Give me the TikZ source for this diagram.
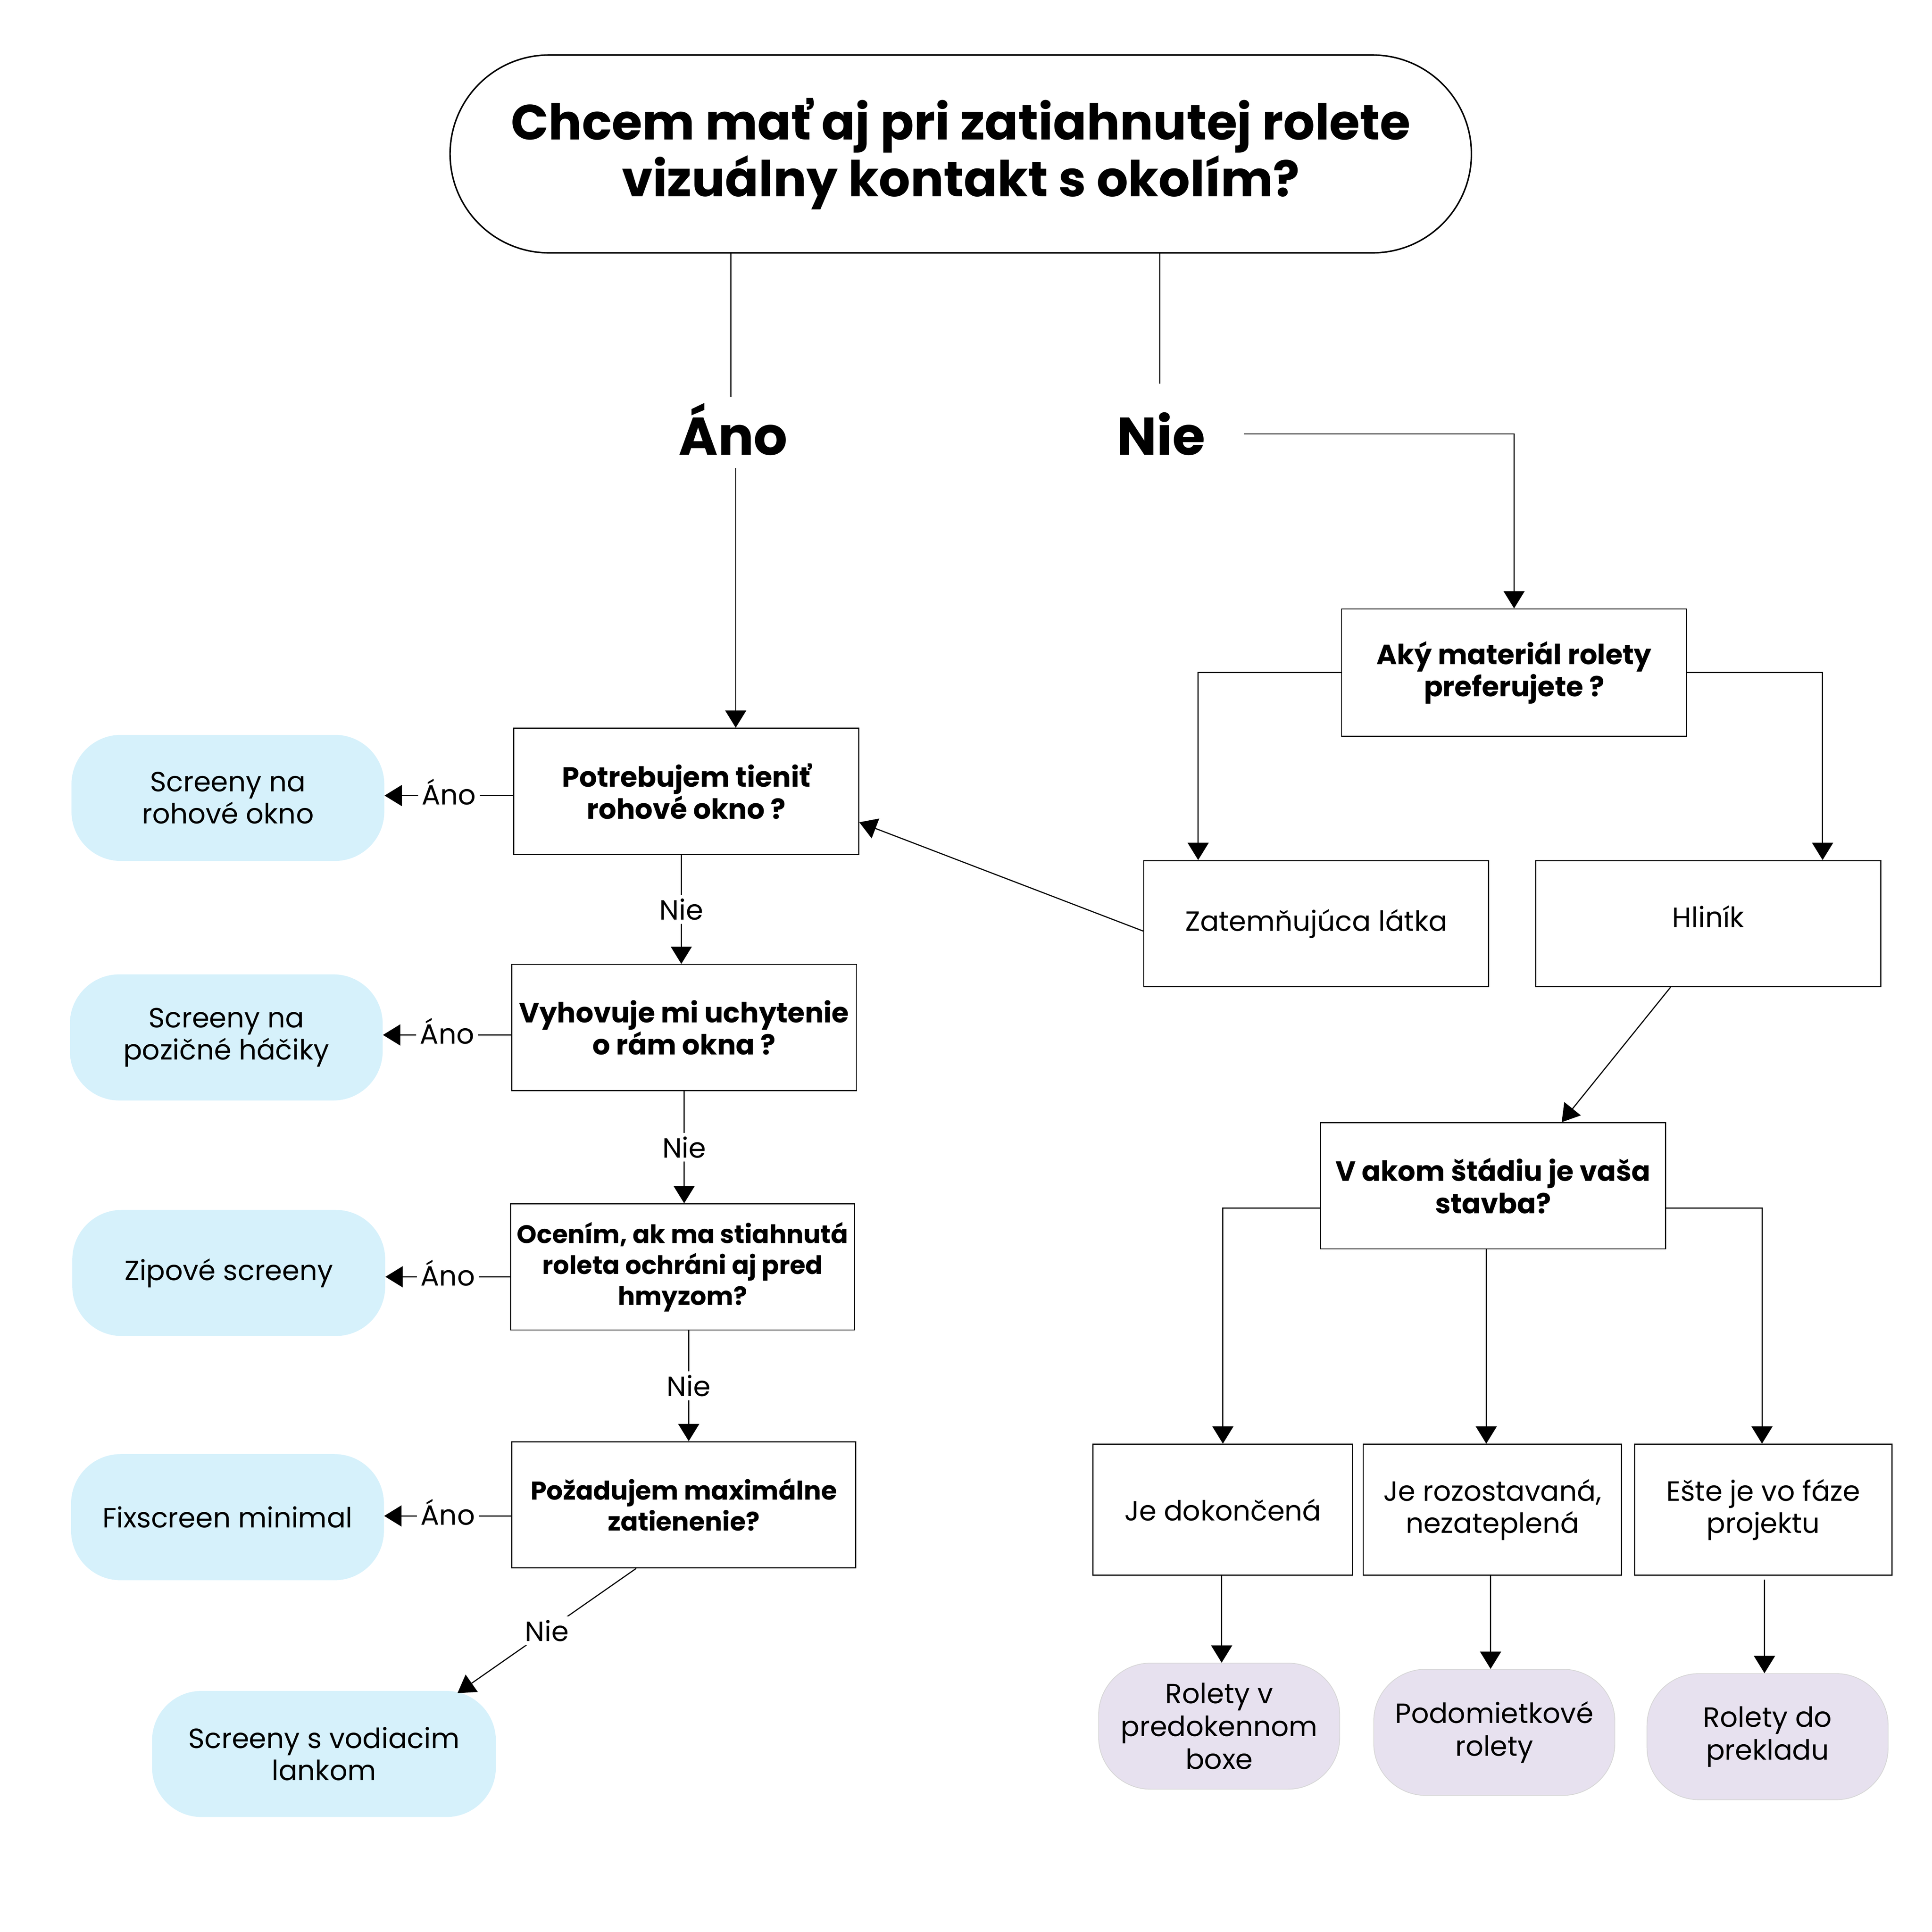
\documentclass[tikz,border=0pt]{standalone}
\usepackage{fontspec}
\setmainfont{Poppins}
\usetikzlibrary{arrows.meta,calc}
\definecolor{lblue}{HTML}{D6F1FB}
\definecolor{lpurple}{HTML}{E7E1EF}
\definecolor{pborder}{HTML}{D6D6D6}
\begin{document}
\begin{tikzpicture}[x=1bp,y=-1bp,
  qbox/.style={draw, line width=0.9bp, minimum width=279bp, minimum height=102bp, align=center, inner sep=0pt, font=\fontsize{22.5bp}{26bp}\selectfont\bfseries},
  abox/.style={draw, line width=0.9bp, minimum width=279bp, minimum height=102bp, align=center, inner sep=0pt, font=\fontsize{22.5bp}{26bp}\selectfont},
  bluebox/.style={fill=lblue, rounded corners=40bp, minimum width=253bp, minimum height=102bp, align=center, inner sep=0pt, font=\fontsize{22.5bp}{26bp}\selectfont},
  purplebox/.style={fill=lpurple, draw=pborder, line width=0.6bp, rounded corners=42bp, minimum width=195bp, minimum height=102bp, align=center, inner sep=0pt, font=\fontsize{22.5bp}{26.5bp}\selectfont},
  conn/.style={line width=0.9bp, -{Triangle[length=14bp,width=17bp]}},
  plain/.style={line width=0.9bp},
  lab/.style={fill=white, inner sep=3bp, font=\fontsize{22.5bp}{26bp}\selectfont},
  alab/.style={lab, anchor=mid, yshift=-4.5bp},
  biglab/.style={inner sep=0pt, anchor=base, font=\fontsize{43bp}{46bp}\selectfont\bfseries}
]
\useasboundingbox (0,0) rectangle (1562.5,1562.5);
% title
\node[draw, line width=1.2bp, rounded corners=80bp, minimum width=826bp, minimum height=160bp, align=center, inner sep=0pt, font=\fontsize{40bp}{46bp}\selectfont\bfseries] (title) at (777,124.5) {Chcem mať aj pri zatiahnutej rolete\\vizuálny kontakt s okolím?};
\node[biglab] (ano) at (593,368) {Áno};
\node[biglab] (nie) at (939,368) {Nie};
% left column
\node[qbox] (q1) at (555,640) {Potrebujem tieniť\\rohové okno ?};
\node[qbox] (q2) at (553.3,831) {Vyhovuje mi uchytenie\\o rám okna ?};
\node[qbox, minimum width=278bp, font=\fontsize{20.5bp}{25bp}\selectfont\bfseries] (q3) at (552,1024.6) {Ocením, ak ma stiahnutá\\roleta ochráni aj pred\\hmyzom?};
\node[qbox, minimum width=278bp, font=\fontsize{20.8bp}{25bp}\selectfont\bfseries] (q4) at (553,1217) {Požadujem maximálne\\zatienenie?};
\node[bluebox] (r1) at (184.3,645.3) {Screeny na\\rohové okno};
\node[bluebox] (r2) at (183,839) {Screeny na\\pozičné háčiky};
\node[bluebox] (r3) at (185,1029.5) {Zipové screeny};
\node[bluebox] (r4) at (184,1227) {Fixscreen minimal};
\node[bluebox, minimum width=278bp] (r5) at (262,1418.5) {Screeny s vodiacim\\lankom};
% right column
\node[qbox, minimum height=103bp] (m) at (1224.5,544) {Aký materiál rolety\\preferujete ?};
\node[abox] (z) at (1064.5,747) {Zatemňujúca látka};
\node[abox] (h) at (1381.5,747) {\raisebox{6bp}[\height][\depth]{Hliník}};
\node[qbox] (s) at (1207.5,959) {V akom štádiu je vaša\\stavba?};
\node[abox, minimum width=210bp, minimum height=106bp] (d1) at (989,1221) {Je dokončená};
\node[abox, minimum width=209bp, minimum height=106bp] (d2) at (1207,1221) {Je rozostavaná,\\nezateplená};
\node[abox, minimum width=208bp, minimum height=106bp] (d3) at (1426,1221) {Ešte je vo fáze\\projektu};
\node[purplebox] (p1) at (986,1396) {Rolety v\\predokennom\\boxe};
\node[purplebox] (p2) at (1208.5,1401) {Podomietkové\\rolety};
\node[purplebox] (p3) at (1429.5,1404.5) {Rolety do\\prekladu};
% connectors from title
\draw[plain] (title.south -| 591,0) -- ([yshift=5bp]ano.north -| 591,0);
\draw[plain] (title.south -| 938,0) -- ([yshift=23bp]nie.north -| 938,0);
\draw[conn] ([yshift=-10bp]ano.south -| 595,0) -- (q1.north -| 595,0);
\draw[conn] ([xshift=31bp]nie.east) -| (m.north);
% material branches
\draw[conn] (m.west) -| ([xshift=-95.5bp]z.north);
\draw[conn] (m.east) -| ([xshift=92.5bp]h.north);
\draw[conn] ([yshift=-6bp]z.west) -- ([yshift=-25bp]q1.east);
\draw[conn] ([xshift=-30.5bp]h.south) -- ([xshift=55.5bp]s.north);
% stage branches
\draw[conn] ([yshift=-18bp]s.west) -| (d1.north);
\draw[conn] ([xshift=-5.5bp]s.south) -- ([xshift=-5.5bp]s.south |- d2.north);
\draw[conn] ([yshift=-18bp]s.east) -| ([xshift=-1bp]d3.north);
\draw[conn] ([xshift=-1bp]d1.south) -- ([xshift=-1bp]d1.south |- p1.north);
\draw[conn] ([xshift=-1.5bp]d2.south) -- ([xshift=-1.5bp]d2.south |- p2.north);
\draw[conn] ([xshift=1bp,yshift=-3bp]d3.south) -- ([xshift=1bp]d3.south |- p3.north);
% left Áno branches
\draw[conn] ([yshift=-3.4bp]q1.west) -- ([yshift=-3.4bp]q1.west -| r1.east) node[alab, midway] {Áno};
\draw[conn] ([yshift=-6bp]q2.west) -- ([yshift=-6bp]q2.west -| r2.east) node[alab, midway] {Áno};
\draw[conn] ([yshift=-8bp]q3.west) -- ([yshift=-8bp]q3.west -| r3.east) node[alab, midway] {Áno};
\draw[conn] ([yshift=-9bp]q4.west) -- ([yshift=-9bp]q4.west -| r4.east) node[alab, midway] {Áno};
% left Nie branches
\draw[conn] ([xshift=-4bp]q1.south) -- ([xshift=-4bp]q1.south |- q2.north) node[lab, midway] {Nie};
\draw[conn] (q2.south) -- (q2.south |- q3.north) node[lab, midway] {Nie};
\draw[conn] ([xshift=5bp]q3.south) -- ([xshift=5bp]q3.south |- q4.north) node[lab, midway] {Nie};
\draw[conn] ([xshift=-38.5bp]q4.south) -- ([xshift=108bp,yshift=-2bp]r5.north) node[lab, midway] {Nie};
\end{tikzpicture}
\end{document}
